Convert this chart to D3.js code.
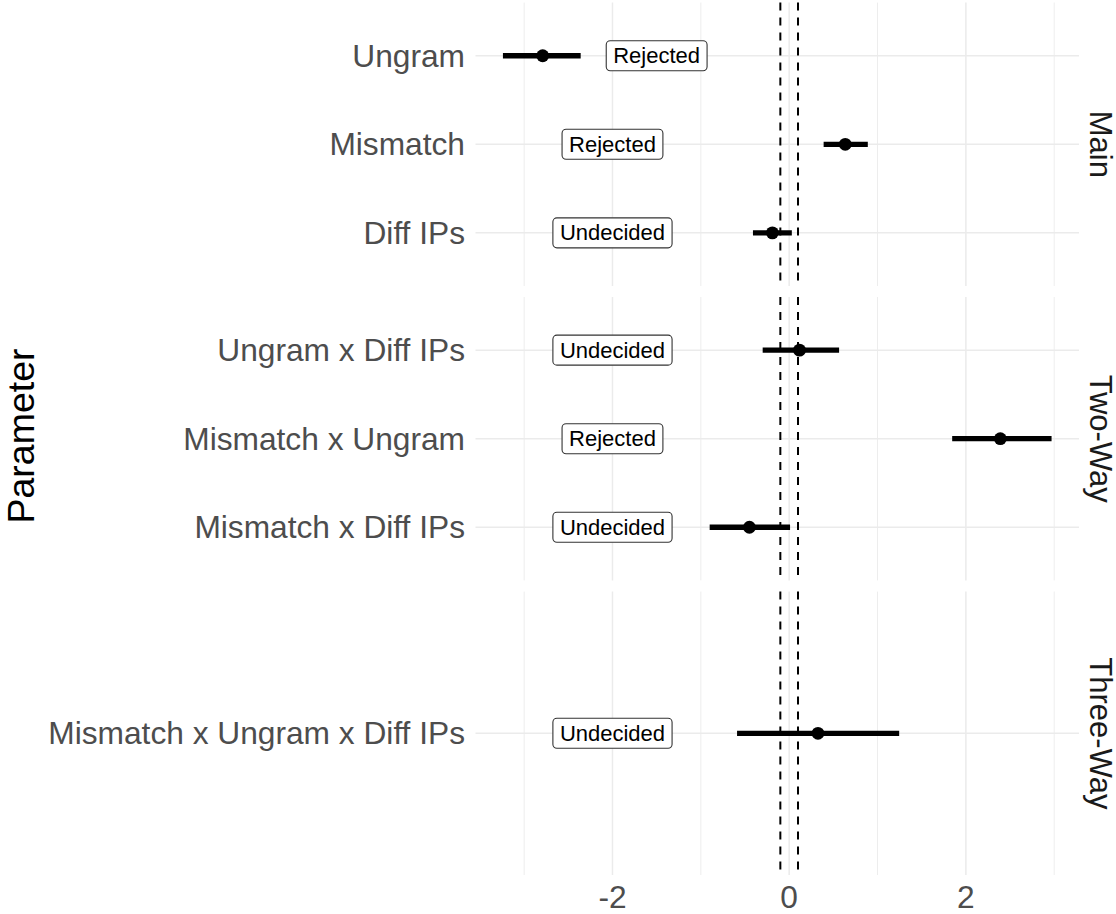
<!DOCTYPE html>
<html>
<head>
<meta charset="utf-8">
<script src="https://cdn.jsdelivr.net/npm/d3@7"></script>
<style>
  html, body { margin: 0; padding: 0; background: #fff; }
  svg { display: block; font-family: "Liberation Sans", Arial, Helvetica, sans-serif; }
</style>
</head>
<body>
<svg id="chart" width="1116" height="914"></svg>
<script>
// ---- data ----
const facets = ["Main", "Two-Way", "Three-Way"];
const parameters = ["Ungram", "Mismatch", "Diff IPs", "Ungram x Diff IPs", "Mismatch x Ungram", "Mismatch x Diff IPs", "Mismatch x Ungram x Diff IPs"];
const parameterFacet = ["Main", "Main", "Main", "Two-Way", "Two-Way", "Two-Way", "Three-Way"];
const estimates = [-2.79, 0.635, -0.19, 0.117, 2.39, -0.45, 0.326];
const lowerCI = [-3.24, 0.39, -0.41, -0.30, 1.845, -0.90, -0.59];
const upperCI = [-2.36, 0.89, 0.03, 0.565, 2.97, 0.01, 1.245];
const decisions = ["Rejected", "Rejected", "Undecided", "Undecided", "Rejected", "Undecided", "Undecided"];
const labelPos = [-1.5, -2, -2, -2, -2, -2, -2];
const ropeBounds = [-0.1, 0.1];
const xMajorTicks = [-2, 0, 2];
const xMinorTicks = [-3, -1, 1, 3];
const yTitle = "Parameter";

const rows = parameters.map((p, i) => ({
  param: p, facet: parameterFacet[i], est: estimates[i], lo: lowerCI[i], hi: upperCI[i],
  decision: decisions[i], lx: labelPos[i]
}));

// ---- layout ----
const svg = d3.select("#chart");
const panelLeft = 475.5, panelRight = 1079;
const panelTops = [2.6, 297, 591.6];
const panelH = 283.4;
const font = '"Liberation Sans", Arial, Helvetica, sans-serif';

const dmin = d3.min(lowerCI), dmax = d3.max(upperCI);
const ex = (dmax - dmin) * 0.05;
const x = d3.scaleLinear().domain([dmin - ex, dmax + ex]).range([panelLeft, panelRight]);

facets.forEach((f, fi) => {
  const top = panelTops[fi];
  const data = rows.filter(r => r.facet === f);
  const y = d3.scalePoint().domain(data.map(d => d.param)).range([top, top + panelH]).padding(0.6);
  if (data.length === 1) y.range([top + panelH / 2, top + panelH / 2]);
  const g = svg.append("g");

  // minor grid
  g.selectAll(".minor").data(xMinorTicks).enter().append("line")
    .attr("x1", d => x(d)).attr("x2", d => x(d))
    .attr("y1", top).attr("y2", top + panelH)
    .attr("stroke", "#EBEBEB").attr("stroke-width", 0.9);
  // major grid
  g.selectAll(".major").data(xMajorTicks).enter().append("line")
    .attr("x1", d => x(d)).attr("x2", d => x(d))
    .attr("y1", top).attr("y2", top + panelH)
    .attr("stroke", "#EBEBEB").attr("stroke-width", 1.5);
  g.selectAll(".hgrid").data(data).enter().append("line")
    .attr("x1", panelLeft).attr("x2", panelRight)
    .attr("y1", d => y(d.param)).attr("y2", d => y(d.param))
    .attr("stroke", "#EBEBEB").attr("stroke-width", 1.5);

  // ROPE dashed lines
  g.selectAll(".rope").data(ropeBounds).enter().append("line")
    .attr("x1", d => x(d)).attr("x2", d => x(d))
    .attr("y1", top).attr("y2", top + panelH)
    .attr("stroke", "#000").attr("stroke-width", 2)
    .attr("stroke-dasharray", "8,7");

  // error bars
  g.selectAll(".eb").data(data).enter().append("line")
    .attr("x1", d => x(d.lo)).attr("x2", d => x(d.hi))
    .attr("y1", d => y(d.param)).attr("y2", d => y(d.param))
    .attr("stroke", "#000").attr("stroke-width", 5.3);
  g.selectAll(".pt").data(data).enter().append("circle")
    .attr("cx", d => x(d.est)).attr("cy", d => y(d.param)).attr("r", 6.4)
    .attr("fill", "#000");

  // labels
  data.forEach(d => {
    const lg = g.append("g");
    const t = lg.append("text")
      .attr("x", x(d.lx)).attr("y", y(d.param))
      .attr("text-anchor", "middle").attr("dominant-baseline", "central")
      .attr("font-size", 22).attr("fill", "#000").attr("font-family", font)
      .text(d.decision);
    const w = t.node().getComputedTextLength();
    lg.insert("rect", "text")
      .attr("x", x(d.lx) - w / 2 - 7).attr("y", y(d.param) - 15)
      .attr("width", w + 14).attr("height", 30)
      .attr("rx", 4).attr("ry", 4)
      .attr("fill", "#fff").attr("stroke", "#333").attr("stroke-width", 1.1);
  });

  // y axis labels
  g.selectAll(".ylab").data(data).enter().append("text")
    .attr("x", 465).attr("y", d => y(d.param))
    .attr("text-anchor", "end").attr("dominant-baseline", "central")
    .attr("font-size", 31.7).attr("fill", "#4D4D4D")
    .text(d => d.param);

  // strip label
  g.append("text")
    .attr("transform", `translate(1100,${top + panelH / 2}) rotate(90)`)
    .attr("text-anchor", "middle").attr("dominant-baseline", "central")
    .attr("font-size", 31).attr("fill", "#1A1A1A")
    .text(f);
});

// x axis tick labels
svg.append("g").selectAll("text").data(xMajorTicks).enter().append("text")
  .attr("x", d => x(d)).attr("y", 908)
  .attr("text-anchor", "middle")
  .attr("font-size", 31.7).attr("fill", "#4D4D4D")
  .text(d => d < 0 ? "-" + Math.abs(d) : String(d));

// y title
svg.append("text")
  .attr("transform", `translate(33.5,436) rotate(-90)`)
  .attr("text-anchor", "middle")
  .attr("font-size", 37.5).attr("fill", "#000")
  .text(yTitle);
</script>
</body>
</html>
